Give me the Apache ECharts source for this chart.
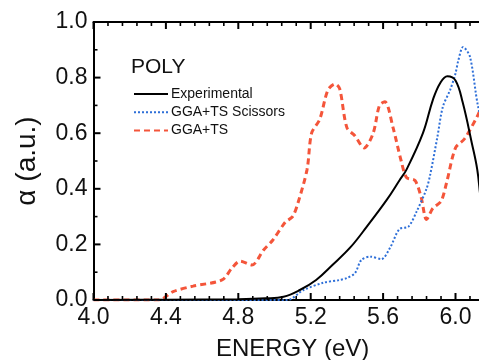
<!DOCTYPE html>
<html><head><meta charset="utf-8">
<script src="https://cdn.jsdelivr.net/npm/echarts@6/dist/echarts.min.js"></script>
<style>html,body{margin:0;padding:0;background:#fff}#c{width:479px;height:360px}</style>
</head><body><div id="c"></div>
<script>
const expE = [4.0,4.4,4.8,4.95,5.05,5.14,5.23,5.32,5.42,5.51,5.62,5.69,5.73,5.82,5.875,5.915,5.955,6.0,6.04,6.09,6.12,6.14,6.2];
const expA = [0,0.001,0.003,0.006,0.012,0.036,0.072,0.126,0.19,0.264,0.36,0.43,0.47,0.60,0.72,0.78,0.805,0.79,0.71,0.565,0.47,0.36,0.1];
const sciE = [4.0,5.07,5.16,5.27,5.36,5.40,5.445,5.48,5.53,5.59,5.64,5.69,5.74,5.785,5.84,5.86,5.90,5.93,5.97,6.0,6.015,6.042,6.08,6.125,6.2];
const sciA = [0,0,0.036,0.062,0.072,0.079,0.097,0.144,0.156,0.147,0.19,0.255,0.264,0.318,0.40,0.45,0.587,0.695,0.755,0.815,0.86,0.91,0.875,0.695,0.5];
const ggaE = [4.0,4.36,4.44,4.55,4.71,4.765,4.81,4.875,4.94,4.99,5.06,5.10,5.13,5.18,5.205,5.25,5.295,5.335,5.36,5.40,5.445,5.495,5.545,5.58,5.61,5.655,5.70,5.73,5.776,5.81,5.84,5.875,5.92,5.95,6.0,6.05,6.12,6.15,6.2];
const ggaA = [0,0,0.03,0.05,0.072,0.115,0.14,0.126,0.18,0.215,0.28,0.30,0.35,0.47,0.60,0.65,0.755,0.777,0.76,0.62,0.59,0.547,0.60,0.70,0.713,0.62,0.50,0.44,0.43,0.37,0.29,0.33,0.355,0.42,0.547,0.58,0.66,0.7,0.72];
const seriesNames = ['Experimental','GGA+TS Scissors','GGA+TS'];
const titleText = 'POLY';
const xName = 'ENERGY (eV)';
const yName = 'α (a.u.)';
const xMajorTicks = [4.0,4.4,4.8,5.2,5.6,6.0];
const xMinorTicks = [4.08,4.16,4.24,4.32,4.48,4.56,4.64,4.72,4.88,4.96,5.04,5.12,5.28,5.36,5.44,5.52,5.68,5.76,5.84,5.92,6.08,6.16];
const yMajorTicks = [0.2,0.4,0.6,0.8];
const yMinorTicks = [0.1,0.3,0.5,0.7,0.9];

const zip = (a,b) => a.map((v,i)=>[v,b[i]]);
const font = 'Liberation Sans, Arial, sans-serif';
const X_MIN = 4.0, X_MAX = 6.2, Y_MIN = 0, Y_MAX = 1.0;

// tick marks: [value, kind(0=x,1=y), length]
const tickData = []
  .concat(xMajorTicks.map(v=>[v,0,7]))
  .concat(xMinorTicks.map(v=>[v,0,4]))
  .concat(yMajorTicks.map(v=>[v,1,7]))
  .concat(yMinorTicks.map(v=>[v,1,4]));

function renderTick(params, api){
  const v = api.value(0), kind = api.value(1), len = api.value(2);
  const w = len > 5 ? 2 : 1.6;
  const st = {stroke:'#000', lineWidth:w};
  if (kind === 0) {
    const b = api.coord([v, Y_MIN]), t = api.coord([v, Y_MAX]);
    return {type:'group', children:[
      {type:'line', shape:{x1:b[0],y1:b[1],x2:b[0],y2:b[1]-len}, style:st},
      {type:'line', shape:{x1:t[0],y1:t[1],x2:t[0],y2:t[1]+len}, style:st}
    ]};
  }
  const l = api.coord([X_MIN, v]);
  return {type:'line', shape:{x1:l[0],y1:l[1],x2:l[0]+len,y2:l[1]}, style:st};
}

const axisLine = {show:true,onZero:false,lineStyle:{color:'#000',width:2}};
const chart = echarts.init(document.getElementById('c'));
chart.setOption({
  animation:false,
  title:{text:titleText,left:126,top:52,textStyle:{fontFamily:font,fontSize:21,fontWeight:'normal',color:'#111'}},
  legend:{orient:'vertical',left:128,top:82,itemWidth:34,itemHeight:14,itemGap:4.3,
    itemStyle:{color:'rgba(0,0,0,0)',borderWidth:0},
    textStyle:{fontFamily:font,fontSize:14,color:'#111',padding:[0,0,0,-2]},data:seriesNames},
  grid:{left:93.5,top:22,width:398.2,height:278,outerBoundsMode:'none'},
  xAxis:[
    {type:'value',min:X_MIN,max:X_MAX,interval:0.4,position:'bottom',
      name:xName,nameLocation:'middle',nameGap:37,nameTextStyle:{fontFamily:font,fontSize:24,color:'#111'},
      axisLine:axisLine,axisTick:{show:false},splitLine:{show:false},
      axisLabel:{fontFamily:font,fontSize:23,color:'#111',margin:6,formatter:v=>v.toFixed(1),showMaxLabel:false}},
    {type:'value',min:X_MIN,max:X_MAX,interval:0.4,position:'top',
      axisLine:axisLine,axisTick:{show:false},splitLine:{show:false},axisLabel:{show:false}}
  ],
  yAxis:{type:'value',min:Y_MIN,max:Y_MAX,interval:0.2,
    name:yName,nameLocation:'middle',nameGap:52,nameRotate:90,nameTextStyle:{fontFamily:font,fontSize:28,color:'#111'},
    axisLine:axisLine,axisTick:{show:false},splitLine:{show:false},
    axisLabel:{fontFamily:font,fontSize:23,color:'#111',margin:6,formatter:v=>v.toFixed(1)}},
  series:[
    {name:seriesNames[0],type:'line',data:zip(expE,expA),smooth:0.4,symbol:'none',
      lineStyle:{color:'#000',width:2},itemStyle:{color:'#000'},z:3},
    {name:seriesNames[1],type:'line',data:zip(sciE,sciA),smooth:0.3,symbol:'none',
      lineStyle:{color:'#2e6fd8',width:2,type:[2,2]},itemStyle:{color:'#2e6fd8'},z:2},
    {name:seriesNames[2],type:'line',data:zip(ggaE,ggaA),smooth:0.3,symbol:'none',
      lineStyle:{color:'#f4553a',width:3,type:[6,4]},itemStyle:{color:'#f4553a'},z:1},
    {name:'ticks',type:'custom',data:tickData,renderItem:renderTick,encode:{x:0,y:1},
      silent:true,clip:false,z:5}
  ]
});
</script></body></html>
